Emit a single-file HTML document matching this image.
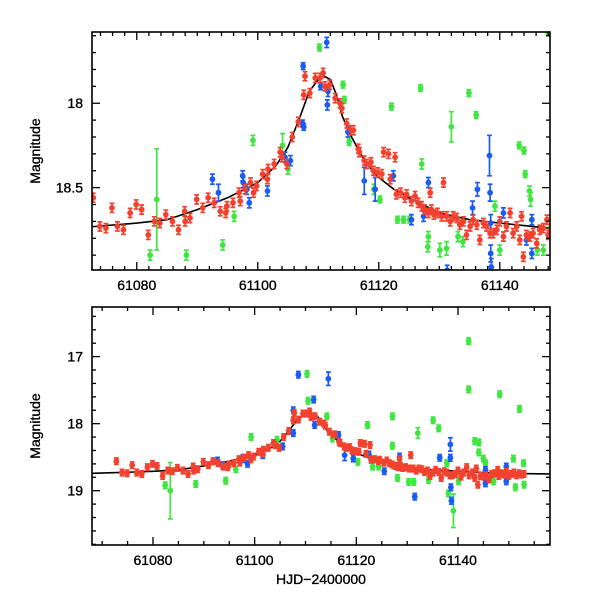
<!DOCTYPE html>
<html><head><meta charset="utf-8"><style>
body{margin:0;background:#fff}
svg{display:block}
text{font-family:"Liberation Sans",sans-serif;font-size:14px;fill:#000;stroke:#000;stroke-width:0.35}
</style></head><body>
<svg id="chart" width="600" height="600" viewBox="0 0 600 600" xmlns="http://www.w3.org/2000/svg"></svg>
<script>
// ---------- data ----------
const redT=[72.8,73.9,74.9,75.9,76.8,77.8,78.9,79.9,80.8,81.9,82.9,83.8,84.8,85.9,86.9,87.9,88.0,88.8,89.9,90.9,91.8,92.8,93.8,94.7,94.9,95.9,96.9,97.1,97.9,98.8,99.3,99.8,100.8,101.6,101.7,102.7,103.7,104.0,104.8,105.7,106.7,107.6,107.8,108.6,109.5,110.3,110.8,111.1,111.9,112.8,113.6,113.9,114.7,115.4,115.8,116.6,116.8,117.6,118.0,118.7,119.1,119.8,120.5,120.8,121.6,121.9,122.7,122.9,123.6,124.3,124.6,125.4,126.0,126.5,127.1,127.6,128.2,128.5,128.7,129.1,129.7,130.4,130.7,131.2,131.8,132.3,132.9,133.4,134.0,134.5,135.1,135.6,136.2,136.7,137.3,137.8,138.4,138.9,139.5,140.0,140.6,141.1,141.7,142.2,142.8,143.3,143.6,143.9,144.4,145.0,145.5,146.1,146.6,147.2,147.8,148.0,148.5,149.0,149.5,150.0,150.5,151.0,151.5,152.0,152.5,153.0];
const redM=[18.56,18.73,18.74,18.62,18.73,18.75,18.65,18.60,18.63,18.78,18.70,18.71,18.66,18.70,18.75,18.64,18.70,18.68,18.57,18.62,18.56,18.59,18.64,18.65,18.61,18.59,18.53,18.58,18.51,18.47,18.53,18.49,18.42,18.45,18.39,18.36,18.29,18.32,18.36,18.20,18.11,17.95,17.84,17.94,17.85,17.85,17.82,17.90,17.89,17.97,18.00,18.03,18.12,18.16,18.16,18.27,18.29,18.34,18.36,18.35,18.40,18.41,18.42,18.29,18.30,18.45,18.32,18.54,18.53,18.56,18.54,18.58,18.55,18.59,18.61,18.63,18.65,18.53,18.63,18.66,18.65,18.67,18.47,18.67,18.70,18.67,18.68,18.72,18.70,18.78,18.73,18.69,18.72,18.81,18.71,18.73,18.77,18.77,18.75,18.70,18.79,18.73,18.65,18.77,18.73,18.81,18.67,18.91,18.78,18.79,18.77,18.83,18.75,18.74,18.69,18.78,18.74,18.76,18.72,18.78,18.75,18.73,18.77,18.74,18.76,18.75];
const redErr=0.027;

const greenT1=[82.2,83.3,88.2,94.2,96.1,99.2,104.1,105.0,110.2,114.1,114.3,115.1,119.2,120.2,122.1,123.1,124.1,125.1,126.9,127.1,128.1,128.2,130.1,131.2,132.0,133.1,133.9,134.9,136.1,139.2,140.0,143.2,144.0,144.2,144.9,145.1,146.2,147.2,148.0,148.3];
const greenM1=[18.90,18.57,18.90,18.84,18.67,18.22,18.25,18.39,17.67,17.89,17.98,18.23,18.51,18.57,18.02,18.69,18.69,18.69,17.91,18.36,18.85,18.79,18.87,18.86,18.14,18.79,18.82,17.94,18.07,18.61,18.87,18.25,18.28,18.42,18.52,18.57,18.87,18.87,17.58,18.76];
const greenE1=[0.03,0.3,0.03,0.03,0.03,0.03,0.07,0.03,0.02,0.02,0.02,0.02,0.03,0.02,0.02,0.02,0.02,0.02,0.02,0.03,0.03,0.03,0.04,0.04,0.09,0.03,0.03,0.02,0.02,0.03,0.03,0.02,0.02,0.02,0.03,0.04,0.03,0.03,0.02,0.03];
const blueT1=[107.5,111.4,107.4,107.6,110.4,111.5,111.6,92.5,93.5,97.5,97.6,98.6,98.2,101.6,104.5,105.4,114.9,117.6,119.4,122.4,125.4,128.2,127.4,131.3,135.5,136.3,138.3,138.4,138.5,138.5,138.6,140.6,145.3,145.3,144.4];
const blueM1=[17.78,17.64,18.12,18.14,17.90,18.01,17.93,18.45,18.53,18.43,18.47,18.59,18.51,18.52,18.32,18.34,18.17,18.46,18.51,18.43,18.69,18.47,18.67,18.99,18.62,18.51,18.31,18.53,18.71,18.89,18.97,18.65,18.69,18.89,18.81];
const blueE1=[0.02,0.03,0.02,0.02,0.02,0.03,0.03,0.03,0.05,0.03,0.03,0.03,0.03,0.03,0.03,0.03,0.03,0.08,0.07,0.03,0.03,0.03,0.03,0.03,0.04,0.04,0.12,0.05,0.05,0.05,0.05,0.03,0.03,0.03,0.03];

const greenT2=[82.4,83.4,88.4,94.3,96.3,99.3,104.4,110.3,110.5,114.2,115.3,119.4,120.3,122.2,123.2,124.4,127.1,127.1,128.1,130.3,131.3,132.1,134.2,135.1,136.2,137.8,139.1,138.1,140.1,142.1,142.1,143.3,144.1,144.1,145.0,145.4,147.0,148.2,150.9,152.1,151.3,152.9,153.0];
const greenM2=[18.92,19.00,18.90,18.85,18.68,18.20,18.24,17.26,17.66,17.89,18.22,18.51,18.57,18.02,18.64,18.64,17.89,18.33,18.81,18.87,18.87,18.14,18.84,17.95,18.07,18.59,19.30,19.04,18.86,16.77,17.49,18.26,18.28,18.43,18.52,18.59,18.86,17.56,18.52,17.78,18.95,18.59,18.91];
const greenE2=[0.03,0.42,0.03,0.03,0.03,0.03,0.04,0.02,0.02,0.02,0.02,0.03,0.03,0.02,0.02,0.02,0.02,0.03,0.03,0.04,0.04,0.08,0.03,0.02,0.02,0.03,0.25,0.03,0.03,0.02,0.02,0.02,0.02,0.02,0.03,0.03,0.03,0.02,0.02,0.02,0.02,0.02,0.02];
const blueT2=[108.6,111.6,111.8,114.5,107.6,107.6,92.7,93.7,97.7,97.8,98.6,101.6,105.5,116.5,117.7,119.4,122.5,125.5,128.5,131.5,136.4,138.5,138.5,138.6,138.7,145.4,145.4,149.5,149.5];
const blueM2=[17.27,17.64,18.02,17.33,17.80,18.14,18.55,18.62,18.51,18.53,18.60,18.47,18.34,18.17,18.47,18.52,18.46,18.71,18.49,19.09,18.51,18.31,18.51,18.95,19.15,18.69,18.89,18.64,18.86];
const blueE2=[0.02,0.02,0.03,0.1,0.02,0.02,0.02,0.04,0.02,0.02,0.02,0.02,0.03,0.03,0.08,0.02,0.03,0.02,0.03,0.04,0.03,0.1,0.05,0.05,0.05,0.03,0.03,0.02,0.02];

const modelT=[68,73,80,85,90,95,100,103,105,107,108.5,110,111,112,113,114,115.5,117,118.5,120,122.5,125,130,135,140,148,158];
const modelM=[18.74,18.73,18.71,18.69,18.63,18.56,18.47,18.37,18.26,18.08,17.93,17.86,17.84,17.86,17.95,18.08,18.20,18.30,18.38,18.44,18.51,18.56,18.65,18.69,18.71,18.74,18.75];

const xTickLabels=["61080","61100","61120","61140"];
const xTickVals=[61080,61100,61120,61140];
const yTicks1=["18","18.5"];
const yTicks2=["17","18","19"];
const T0=61000;

// ---------- drawing ----------
const NS="http://www.w3.org/2000/svg";
const svg=document.getElementById('chart');
function mk(tag,attrs,parent){const e=document.createElementNS(NS,tag);for(const k in attrs)e.setAttribute(k,attrs[k]);(parent||svg).appendChild(e);return e;}
const RED="#f2412e",GREEN="#3fe63f",BLUE="#1a5cf2";

function panel(id,box,xr,yr,xMinor,yMajor,yMinor,yLabels,greens,blues,xTitle,errScale){
  const g=mk('g',{});
  
  
  const X=t=>box.x+(t-xr[0])/(xr[1]-xr[0])*box.w;
  const Y=m=>box.y+(m-yr[0])/(yr[1]-yr[0])*box.h;
  const cid='clip-'+id;
  const cp=mk('clipPath',{id:cid},g);mk('rect',{x:box.x,y:box.y,width:box.w,height:box.h},cp);
  const data=mk('g',{'clip-path':'url(#'+cid+')'},g);
  let d='';modelT.forEach((t,i)=>{d+=(i?'L':'M')+X(T0+t).toFixed(1)+' '+Y(modelM[i]).toFixed(1);});
  const ml=mk('path',{d:d,fill:'none',stroke:'#000','stroke-width':1.6},data);
  
  
  function series(name,T,M,E,color,es){
    const sg=mk('g',{stroke:color,fill:color,'stroke-width':1.7},data);
    
    
    T.forEach((t,i)=>{
      const x=X(T0+t),y=Y(M[i]),e=(Array.isArray(E)?E[i]:E)*es;
      const y1=Math.min(Y(M[i]-e),y-3.2),y2=Math.max(Y(M[i]+e),y+3.2);
      mk('path',{d:`M${x} ${y1}V${y2}M${x-2.4} ${y1}H${x+2.4}M${x-2.4} ${y2}H${x+2.4}`,fill:'none'},sg);
      const c=mk('circle',{cx:x,cy:y,r:2.9,stroke:'none'},sg);
      
      
    });
  }
  series('green-series',greens[0],greens[1],greens[2],GREEN,1);
  series('blue-series',blues[0],blues[1],blues[2],BLUE,1);
  series('red-series',redT,redM,redErr,RED,errScale);
  mk('rect',{x:box.x,y:box.y,width:box.w,height:box.h,fill:'none',stroke:'#000','stroke-width':1.6},g);
  const tk=mk('g',{stroke:'#000','stroke-width':1.3},g);
  for(let t=Math.ceil(xr[0]/xMinor)*xMinor;t<=xr[1];t+=xMinor){
    const L=(Math.abs(t%20)<1e-6)?8:4,x=X(t);
    mk('line',{x1:x,y1:box.y+box.h,x2:x,y2:box.y+box.h-L},tk);
    mk('line',{x1:x,y1:box.y,x2:x,y2:box.y+L},tk);
  }
  const n0=Math.ceil(yr[0]/yMinor-1e-6);
  for(let k=n0;k*yMinor<=yr[1]+1e-9;k++){
    const m=k*yMinor;const maj=Math.abs(m/yMajor-Math.round(m/yMajor))<1e-6;const L=maj?8:4,y=Y(m);
    mk('line',{x1:box.x,y1:y,x2:box.x+L,y2:y},tk);
    mk('line',{x1:box.x+box.w,y1:y,x2:box.x+box.w-L,y2:y},tk);
  }
  xTickLabels.forEach((s,i)=>{
    const t=mk('text',{x:X(xTickVals[i]),y:box.y+box.h+20,'text-anchor':'middle'},g);t.textContent=s;
    
    
  });
  yLabels.forEach(s=>{
    const t=mk('text',{x:box.x-9,y:Y(parseFloat(s))+5,'text-anchor':'end'},g);t.textContent=s;
    
    
  });
  const yt=mk('text',{x:0,y:0,'text-anchor':'middle',transform:`translate(40 ${box.y+box.h/2}) rotate(-90)`},g);
  yt.textContent='Magnitude';
  
  
  if(xTitle){
    const xt=mk('text',{x:box.x+box.w/2,y:box.y+box.h+39,'text-anchor':'middle'},g);
    xt.textContent=xTitle;
    
    
  }
}
panel('top-panel',{x:92,y:32,w:458,h:238},[61072.6,61148.3],[17.578,18.988],2,0.5,0.1,yTicks1,[greenT1,greenM1,greenE1],[blueT1,blueM1,blueE1],null,1);
panel('bottom-panel',{x:92,y:307,w:458,h:238},[61068,61158.1],[16.26,19.81],5,1,0.2,yTicks2,[greenT2,greenM2,greenE2],[blueT2,blueM2,blueE2],'HJD\u22122400000',1.3);
</script>
</body></html>
